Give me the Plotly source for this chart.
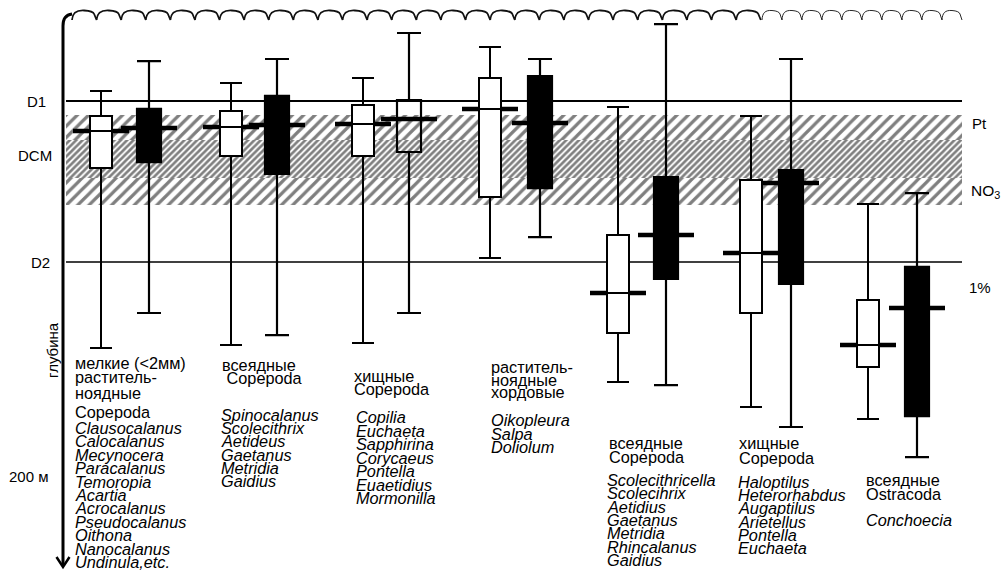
import plotly.graph_objects as go

# depth of each box, in metres; light = open boxes, dark = filled boxes
groups = ["мелкие растительноядные Copepoda", "всеядные Copepoda", "хищные Copepoda",
          "растительноядные хордовые", "всеядные Copepoda", "хищные Copepoda", "всеядные Ostracoda"]

light_top = [31.1, 27.6, 25.4, 11.8, 38.2, 42.1, 80.7]
light_q1 = [42.1, 39.9, 37.3, 25.4, 94.3, 70.2, 122.8]
light_med = [48.7, 46.9, 45.6, 39.0, 119.7, 102.2, 142.5]
light_q3 = [64.9, 59.6, 59.6, 77.6, 137.3, 128.5, 152.2]
light_bot = [143.9, 142.5, 141.7, 104.4, 158.8, 169.7, 175.0]

dark_top = [18.0, 17.1, 5.7, 17.1, 1.8, 17.1, 75.9]
dark_q1 = [39.0, 33.3, 35.1, 24.6, 68.9, 65.8, 108.3]
dark_med = [47.4, 46.1, 43.4, 45.2, 94.3, 71.5, 126.3]
dark_q3 = [62.3, 67.5, 57.9, 73.7, 113.6, 115.8, 173.7]
dark_bot = [128.5, 138.2, 128.5, 95.2, 160.1, 178.5, 191.7]
dark_hollow = [False, False, True, False, False, False, False]

# layers
d1 = 35.5
d2 = 106.1
hatch_zone = [41.7, 81.1]
dcm_zone = [52.6, 69.3]

# labels under the boxes
titles = [
    ["мелкие (<2мм)", "раститель-", "ноядные", "Copepoda"],
    ["всеядные", " Copepoda"],
    ["хищные", "Copepoda"],
    ["раститель-", "ноядные", "хордовые"],
    ["всеядные", "Copepoda"],
    ["хищные", "Copepoda"],
    ["всеядные", "Ostracoda"],
]
genera = [
    ["Clausocalanus", "Calocalanus", "Mecynocera", "Paracalanus", "Temoropia", "Acartia",
     "Acrocalanus", "Pseudocalanus", "Oithona", "Nanocalanus", "Undinula,etc."],
    ["Spinocalanus", "Scolecithrix", "Aetideus", "Gaetanus", "Metridia", "Gaidius"],
    ["Copilia", "Euchaeta", "Sapphirina", "Corycaeus", "Pontella", "Euaetidius", "Mormonilla"],
    ["Oikopleura", "Salpa", "Doliolum"],
    ["Scolecithricella", "Scolecihrix", "Aetidius", "Gaetanus", "Metridia", "Rhincalanus", "Gaidius"],
    ["Haloptilus", "Heterorhabdus", "Augaptilus", "Arietellus", "Pontella", "Euchaeta"],
    ["Conchoecia"],
]

# ---- layout helpers (page pixels -> axes) ----
def row(p):
    return (p - 20) / 2.28

light_x = [101, 231, 363, 490, 618, 751, 868]
dark_x = [149, 277, 409, 540, 666, 791, 917]
title_pos = [(73, [363, 377, 393, 412]), (220, [365, 378]), (352, [376, 389]),
             (489, [367, 380, 392]), (607, [443, 457]), (737, [443, 458]), (864, [480, 494])]
genera_pos = [(73, 428, 13.4), (219, 415, 13.2), (354, 417, 13.5), (489, 420, 13.5),
              (605, 480, 13.3), (736, 482, 13.2), (864, 520, 13.3)]

FONT = "Liberation Sans, Arial, sans-serif"
fig = go.Figure()

# hatched zone (Pt .. NO3) and dense DCM band
def band(z, size, solidity, fg):
    fig.add_trace(go.Scatter(
        x=[66, 962, 962, 66, 66], y=[z[0], z[0], z[1], z[1], z[0]],
        mode="lines", line=dict(width=0), fill="toself", fillcolor="white",
        fillpattern=dict(shape="/", size=size, solidity=solidity, fgcolor=fg, bgcolor="white"),
        hoverinfo="skip", showlegend=False))

band(hatch_zone, 8, 0.4, "black")
band(dcm_zone, 4.5, 0.6, "black")

# medians: short thick bars sticking out of the boxes (under the boxes)
fig.add_trace(go.Scatter(
    x=light_x + dark_x, y=light_med + dark_med, mode="markers",
    marker=dict(symbol="line-ew", size=40, line=dict(width=4.5, color="black")),
    hoverinfo="skip", showlegend=False))

# boxes live on an overlaid subplot so that they sit above the hatching
for i in range(len(groups)):
    fig.add_trace(go.Box(
        x=[light_x[i]], q1=[light_q1[i]], median=[light_med[i]], q3=[light_q3[i]],
        lowerfence=[light_top[i]], upperfence=[light_bot[i]],
        width=22, whiskerwidth=1, fillcolor="white", line=dict(color="black", width=2),
        boxpoints=False, name=groups[i], showlegend=False, xaxis="x2", yaxis="y2"))
    fig.add_trace(go.Box(
        x=[dark_x[i]], q1=[dark_q1[i]], median=[dark_med[i]], q3=[dark_q3[i]],
        lowerfence=[dark_top[i]], upperfence=[dark_bot[i]],
        width=24, whiskerwidth=1,
        fillcolor="rgba(0,0,0,0)" if dark_hollow[i] else "black",
        line=dict(color="black", width=2.2),
        boxpoints=False, name=groups[i], showlegend=False, xaxis="x2", yaxis="y2"))

shapes = []
shapes.append(dict(type="line", x0=66, x1=962, y0=d1, y1=d1, line=dict(color="black", width=2), layer="below"))
shapes.append(dict(type="line", x0=66, x1=962, y0=d2, y1=d2, line=dict(color="black", width=1.5), layer="below"))

# depth axis with arrow
shapes.append(dict(type="path", path=f"M 63,{row(566)} L 63,{row(26)} Q 63,{row(15)} 72,{row(14)}",
                   line=dict(color="black", width=3)))
shapes.append(dict(type="path", path=f"M 56.5,{row(557)} L 63,{row(567)} L 69.5,{row(557)}",
                   line=dict(color="black", width=2.5)))

# sea surface waves: curled crests
def waves(x0, x1, period, width):
    x = x0
    p = f"M {x},{row(20)} "
    while x + period <= x1 + 0.5:
        p += (f"C {x + 0.02 * period},{row(13)} {x + 0.15 * period},{row(10)} "
              f"{x + 0.5 * period},{row(10.5)} Q {x + 0.85 * period},{row(11)} {x + 0.9 * period},{row(14)} "
              f"L {x + period},{row(20)} ")
        x += period
    return dict(type="path", path=p, line=dict(color="#111", width=width))

shapes.append(waves(72, 762, 24.6, 1.8))
shapes.append(waves(762, 962, 20, 0.9))

ann = []
def text(x, y, s, size=16.3, anchor="left"):
    ann.append(dict(x=x, y=row(y), text=s, showarrow=False, xanchor=anchor, yanchor="middle",
                    font=dict(family=FONT, size=size, color="black")))

text(36, 101, "D1", 15, "center")
text(35, 155, "DCM", 15, "center")
text(40, 262, "D2", 15, "center")
text(29, 476, "200 м", 15, "center")
text(970, 123, "Pt", 15)
text(969, 191, "NO<sub>3</sub>", 15.5)
text(967, 287, "1%", 15)
ann.append(dict(x=52, y=row(350), text="глубина", showarrow=False, textangle=-90,
                font=dict(family=FONT, size=15, color="black")))

for (tx, rows), lines in zip(title_pos, titles):
    for r, s in zip(rows, lines):
        text(tx, r, s)
for (gx, g0, step), names in zip(genera_pos, genera):
    for k, s in enumerate(names):
        text(gx, g0 + k * step, f"<i>{s}</i>")

fig.update_layout(
    width=1006, height=572, margin=dict(l=0, r=0, t=0, b=0),
    paper_bgcolor="white", plot_bgcolor="white",
    xaxis=dict(range=[0, 1006], visible=False, fixedrange=True),
    yaxis=dict(range=[row(572), row(0)], visible=False, fixedrange=True),
    xaxis2=dict(range=[0, 1006], visible=False, fixedrange=True, overlaying="x"),
    yaxis2=dict(range=[row(572), row(0)], visible=False, fixedrange=True, overlaying="y"),
    shapes=shapes, annotations=ann, boxmode="overlay", showlegend=False,
)

fig.write_html("out.html", config={"displayModeBar": False},
               post_script="document.body.style.margin='0';document.body.style.overflow='hidden';")
